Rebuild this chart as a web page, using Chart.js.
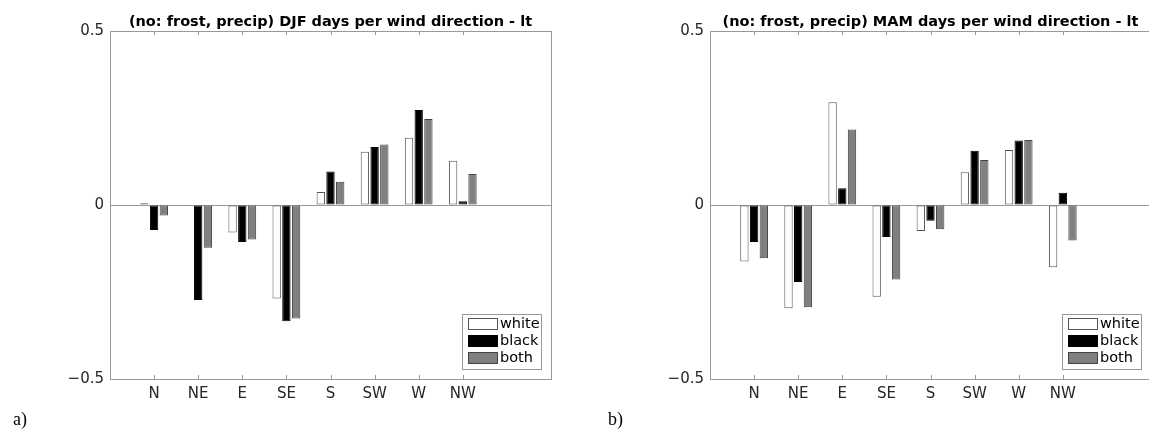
<!DOCTYPE html>
<html>
<head>
<meta charset="utf-8">
<script src="https://cdn.jsdelivr.net/npm/chart.js@4.4.1/dist/chart.umd.min.js"></script>
<style>
  html, body { margin: 0; padding: 0; background: #fff; overflow: hidden; }
  #wrap { position: relative; width: 1149px; height: 434px; overflow: hidden; }
  canvas { position: absolute; top: 0; }
  .tag { position: absolute; font-family: "Liberation Serif", "Times New Roman", serif; font-size: 18px; line-height: 18px; color: #000; }
</style>
</head>
<body>
<div id="wrap">
  <canvas id="djfChart" width="575" height="434" style="left:0"></canvas>
  <canvas id="mamChart" width="575" height="434" style="left:600px"></canvas>
  <div class="tag" style="left:13px;top:410px">a)</div>
  <div class="tag" style="left:608px;top:410px">b)</div>
</div>
<script>
// wind directions, axis runs 0..10 with the directions at 1..8
const directions = ["N", "NE", "E", "SE", "S", "SW", "W", "NW"];
const seriesNames = ["white", "black", "both"];
const yTicks = [-0.5, 0, 0.5];

const djfTitle = "(no: frost, precip) DJF days per wind direction - lt";
const djfWhite = [0.005, -0.002, -0.079, -0.269, 0.037, 0.153, 0.193, 0.127];
const djfBlack = [-0.072, -0.273, -0.106, -0.334, 0.096, 0.167, 0.273, 0.011];
const djfBoth  = [-0.030, -0.123, -0.099, -0.326, 0.067, 0.174, 0.247, 0.089];

const mamTitle = "(no: frost, precip) MAM days per wind direction - lt";
const mamWhite = [-0.162, -0.297, 0.295, -0.264, -0.075, 0.094, 0.158, -0.179];
const mamBlack = [-0.106, -0.221, 0.048, -0.092, -0.045, 0.156, 0.185, 0.035];
const mamBoth  = [-0.153, -0.294, 0.217, -0.214, -0.070, 0.129, 0.187, -0.102];

const fills = ["#ffffff", "#000000", "#808080"];
const edges = ["#555555", "#000000", "#444444"];
const axisGray = "#999999";
const FONT = "DejaVu Sans";

const labels = [""].concat(directions, ["", ""]);
const pad = arr => [null].concat(arr, [null, null]);

const boxPlugin = {
    id: "boxPlugin",
    afterDatasetsDraw(chart) {
        const ctx = chart.ctx;
        const a = chart.chartArea;
        const xs = chart.scales.x;
        ctx.save();
        // inward tick marks, top and bottom
        ctx.strokeStyle = axisGray;
        ctx.lineWidth = 1;
        xs.ticks.forEach((t, i) => {
            if (!labels[i]) return;
            const x = Math.round(xs.getPixelForTick(i)) + 0.5;
            ctx.beginPath();
            ctx.moveTo(x, a.bottom); ctx.lineTo(x, a.bottom - 4);
            ctx.moveTo(x, a.top); ctx.lineTo(x, a.top + 4);
            ctx.stroke();
        });
        // title centred over the axes
        ctx.fillStyle = "#000";
        ctx.font = "bold 14.5px '" + FONT + "'";
        ctx.textAlign = "center";
        ctx.textBaseline = "alphabetic";
        ctx.fillText(chart.options.plugins.boxPlugin.title, (a.left + a.right) / 2, a.top - 5);
        // legend in the lower right corner
        const bw = 79, bh = 55;
        const bx = a.right - 10 - bw, by = a.bottom - 10 - bh;
        ctx.fillStyle = "#fff";
        ctx.fillRect(bx, by, bw, bh);
        ctx.strokeStyle = axisGray;
        ctx.strokeRect(bx + 0.5, by + 0.5, bw, bh);
        ctx.font = "14.5px '" + FONT + "'";
        ctx.textAlign = "left";
        ctx.textBaseline = "middle";
        chart.data.datasets.forEach((ds, i) => {
            const sy = by + 4 + i * 17;
            ctx.fillStyle = ds.backgroundColor;
            ctx.fillRect(bx + 6, sy, 30, 12);
            ctx.strokeStyle = ds.borderColor;
            ctx.strokeRect(bx + 6.5, sy + 0.5, 29, 11);
            ctx.fillStyle = "#000";
            ctx.fillText(ds.label, bx + 38, sy + 6);
        });
        ctx.restore();
    }
};

function makeChart(id, title, white, black, both) {
    const values = [white, black, both];
    return new Chart(document.getElementById(id), {
        type: "bar",
        data: {
            labels: labels,
            datasets: seriesNames.map((name, i) => ({
                label: name,
                data: pad(values[i]),
                backgroundColor: fills[i],
                borderColor: edges[i],
                borderWidth: 1,
                borderSkipped: false,
                categoryPercentage: 0.66,
                barPercentage: 0.86
            }))
        },
        options: {
            responsive: false,
            animation: false,
            layout: { padding: { top: 31, right: 24, left: 0, bottom: 0 } },
            plugins: {
                legend: { display: false },
                tooltip: { enabled: false },
                title: { display: false },
                boxPlugin: { title: title }
            },
            scales: {
                x: {
                    type: "category",
                    offset: false,
                    grid: {
                        offset: false,
                        drawTicks: false,
                        color: c => (c.index === labels.length - 1 ? axisGray : "rgba(0,0,0,0)")
                    },
                    border: { display: true, color: axisGray },
                    ticks: {
                        autoSkip: false,
                        maxRotation: 0,
                        padding: 6,
                        color: "#262626",
                        font: { family: FONT, size: 15 }
                    },
                    afterFit: s => { s.height = 55; }
                },
                y: {
                    min: -0.5,
                    max: 0.5,
                    afterBuildTicks: s => { s.ticks = yTicks.map(v => ({ value: v })); },
                    grid: {
                        drawTicks: false,
                        color: c => (c.tick && c.tick.value >= 0 ? axisGray : "rgba(0,0,0,0)")
                    },
                    border: { display: true, color: axisGray },
                    ticks: {
                        padding: 6,
                        color: "#262626",
                        font: { family: FONT, size: 15 },
                        callback: v => (v < 0 ? "\u2212" + Math.abs(v) : String(v))
                    },
                    afterFit: s => { s.width = 110; }
                }
            }
        },
        plugins: [boxPlugin]
    });
}

makeChart("djfChart", djfTitle, djfWhite, djfBlack, djfBoth);
makeChart("mamChart", mamTitle, mamWhite, mamBlack, mamBoth);
</script>
</body>
</html>
